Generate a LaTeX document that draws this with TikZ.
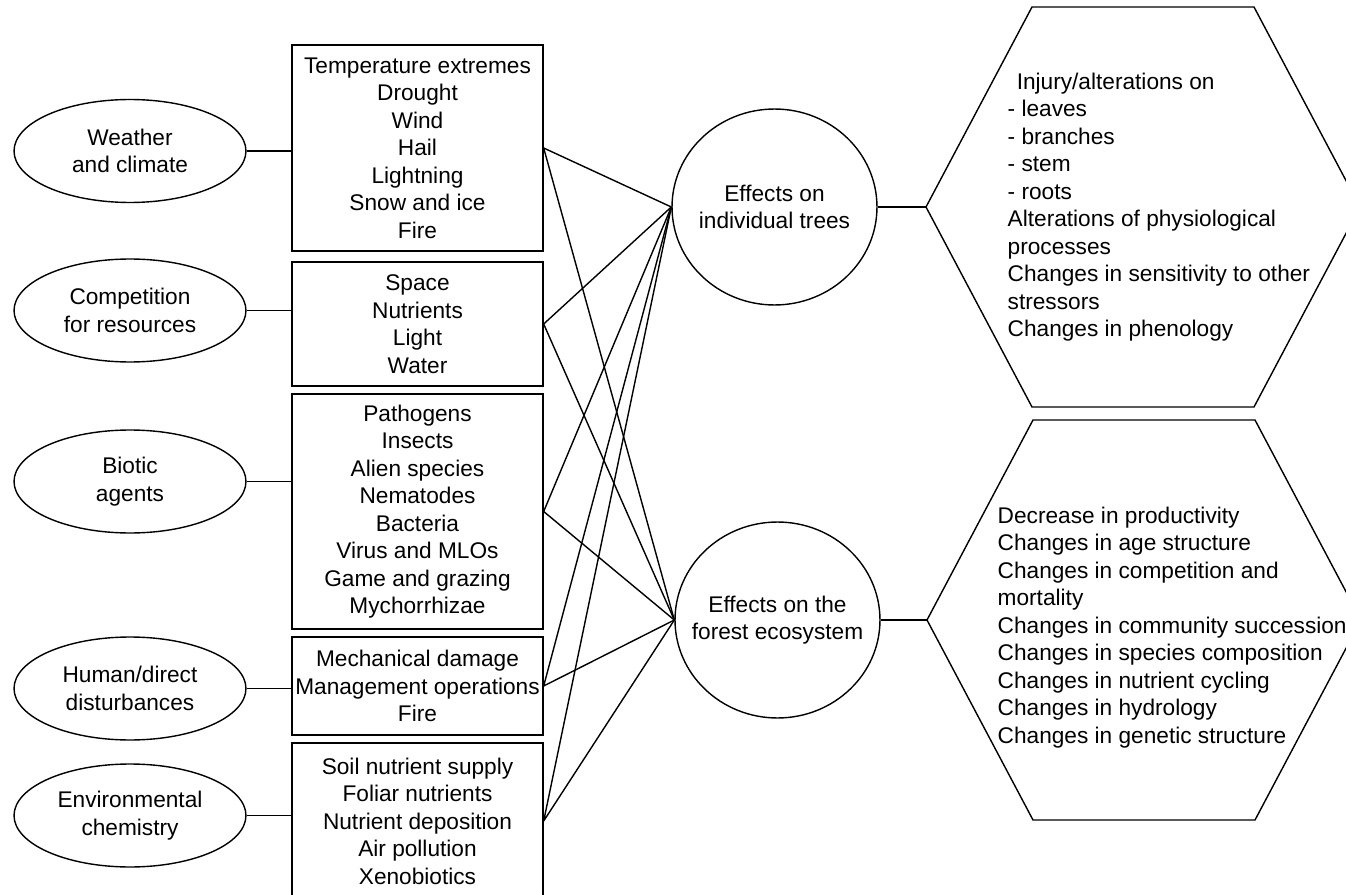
\documentclass[tikz,border=0pt]{standalone}
\usepackage{fontspec}
\setmainfont{Liberation Sans}
\usetikzlibrary{shapes.geometric}

\begin{document}
\begin{tikzpicture}[
    x=0.02cm, y=-0.02cm,
    font=\fontsize{12.9}{15.65}\selectfont,
    line width=0.8pt,
    cause/.style ={
        ellipse,
        draw,
        minimum width=4.64cm,
        minimum height=2.06cm,
        align=center
    },
    box/.style ={
        rectangle,
        draw,
        minimum width=5.02cm,
        inner xsep=1pt,
        align=center
    },
    effect/.style ={
        ellipse,
        draw,
        minimum width=4.1cm,
        minimum height=3.92cm,
        label={[align=center]center:#1}
    },
    list/.style ={
        anchor=west,
        inner sep=0pt,
        align=left
    }
    ]
    \useasboundingbox (0,0) rectangle (1346,895);

    \foreach \name/ \y/ \txt in {{weather/151/{Weather\\and climate}}, {compete/310.5/{Competition\\for resources}}, {biotic/481.5/{Biotic\\agents}}, {human/688.5/{Human/direct\\disturbances}}, {chem/815.5/{Environmental\\chemistry}}}
        \node[cause] (\name) at (130,\y) {\txt};

    \foreach \name/ \y/ \h/ \txt in {{temps/148/4.12/{Temperature extremes\\Drought\\Wind\\Hail\\Lightning\\Snow and ice\\Fire}}, {resources/324/2.48/{Space\\Nutrients\\Light\\Water}}, {agents/511.5/4.7/{Pathogens\\Insects\\Alien species\\Nematodes\\Bacteria\\Virus and MLOs\\Game and grazing\\Mychorrhizae}}, {operations/686/1.96/{Mechanical damage\\Management operations\\Fire}}, {chemicals/821/3.12/{Soil nutrient supply\\Foliar nutrients\\Nutrient deposition\\Air pollution\\Xenobiotics}}}
        \node[box, minimum height=\h cm] (\name) at (417.5,\y) {\txt};

    \node[effect={Effects on\\individual trees}] (trees) at (774.5,207) {};
    \node[effect={Effects on the\\forest ecosystem}] (forest) at (777.5,620) {};

    \coordinate (treehex) at (926,207);
    \coordinate (foresthex) at (927,620);
    \foreach \c in {treehex, foresthex}
        \draw (\c) -- ++(106,-200) -- ++(222,0) -- ++(106,200) -- ++(-106,200) -- ++(-222,0) -- cycle;

    \node[list] (treelist) at (1007,207) {\hspace*{0.4em}Injury/alterations on\\- leaves\\- branches\\- stem\\- roots\\Alterations of physiological\\processes\\Changes in sensitivity to other\\stressors\\Changes in phenology};
    \node[list] (forestlist) at (997,627.5) {Decrease in productivity\\Changes in age structure\\Changes in competition and\\mortality\\Changes in community succession\\Changes in species composition\\Changes in nutrient cycling\\Changes in hydrology\\Changes in genetic structure};

    \foreach \src/ \dst in {weather/temps, compete/resources, biotic/agents, human/operations, chem/chemicals}
        \draw (\src.east) -- (\src.east -| \dst.west);

    \foreach \src in {temps, resources, agents, operations, chemicals}
        \draw (\src.east) -- (trees.west) (\src.east) -- (forest.west);

    \draw (trees.east) -- (treehex);
    \draw (forest.east) -- (foresthex);

\end{tikzpicture}
\end{document}
